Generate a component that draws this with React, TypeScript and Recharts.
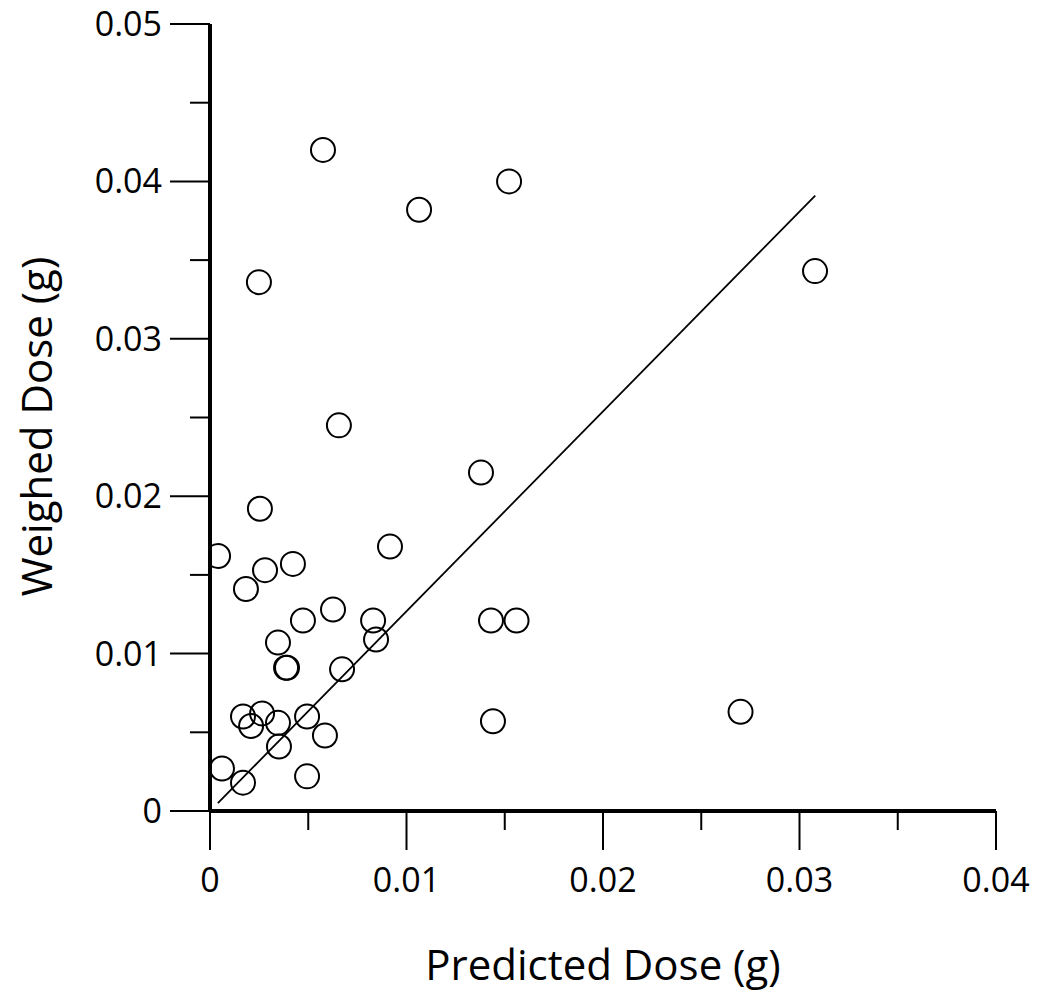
import React from 'react';
import { ScatterChart, Scatter, XAxis, YAxis, ReferenceLine, Label } from 'recharts';

const predicted = [
  0.00575, 0.01522, 0.01064, 0.00249, 0.03079, 0.00656, 0.01379, 0.00254,
  0.00916, 0.00041, 0.0028, 0.00422, 0.00183, 0.00626, 0.00473, 0.0083,
  0.0143, 0.0156, 0.00346, 0.00845, 0.00387, 0.00392, 0.00672, 0.00168,
  0.00265, 0.00209, 0.00346, 0.00494, 0.00585, 0.00351, 0.0144, 0.027,
  0.00061, 0.00168, 0.00494,
];
const weighed = [
  0.042, 0.04, 0.0382, 0.0336, 0.0343, 0.0245, 0.0215, 0.0192,
  0.0168, 0.0162, 0.0153, 0.0157, 0.0141, 0.0128, 0.0121, 0.0121,
  0.0121, 0.0121, 0.0107, 0.0109, 0.0091, 0.0091, 0.009, 0.006,
  0.0062, 0.0054, 0.0056, 0.006, 0.0048, 0.0041, 0.0057, 0.0063,
  0.0027, 0.0018, 0.0022,
];
const fitX = [0.0004, 0.0308];
const fitY = [0.0005, 0.0391];
const xTicks = [0, 0.005, 0.01, 0.015, 0.02, 0.025, 0.03, 0.035, 0.04];
const yTicks = [0, 0.005, 0.01, 0.015, 0.02, 0.025, 0.03, 0.035, 0.04, 0.045, 0.05];
const xTitle = 'Predicted Dose (g)';
const yTitle = 'Weighed Dose (g)';

const points = predicted.map((x, i) => ({ x, y: weighed[i] }));
const fitSegment = fitX.map((x, i) => ({ x, y: fitY[i] }));

const FONT = '"Open Sans", "Noto Sans", sans-serif';
const isMajor = (v: number) => Math.abs(v * 100 - Math.round(v * 100)) < 1e-6;
const fmt = (v: number) => (v === 0 ? '0' : v.toFixed(2));

const XTick = (props: any) => {
  const { x, y, payload } = props;
  const v = payload.value;
  const major = isMajor(v);
  return (
    <g>
      <line x1={x} x2={x} y1={y} y2={y + (major ? 39 : 19)} stroke="#000" strokeWidth={2} />
      {major && (
        <text x={x} y={y + 81} textAnchor="middle" fontSize={34} fontFamily={FONT} fill="#000">
          {fmt(v)}
        </text>
      )}
    </g>
  );
};

const YTick = (props: any) => {
  const { x, y, payload } = props;
  const v = payload.value;
  const major = isMajor(v);
  return (
    <g>
      <line x1={x - (major ? 40 : 20)} x2={x} y1={y} y2={y} stroke="#000" strokeWidth={2} />
      {major && (
        <text x={x - 48} y={y + 12} textAnchor="end" fontSize={34} fontFamily={FONT} fill="#000">
          {fmt(v)}
        </text>
      )}
    </g>
  );
};

const Ring = (props: any) => (
  <circle cx={props.cx} cy={props.cy} r={12} fill="none" stroke="#000" strokeWidth={2} />
);

export default function App() {
  return (
    <div style={{ position: 'absolute', left: 0, top: 0, width: 1042, height: 1000, background: '#fff' }}>
      <ScatterChart width={1042} height={1000} margin={{ top: 24, right: 46, bottom: 0, left: 0 }}>
        <XAxis
          type="number"
          dataKey="x"
          domain={[0, 0.04]}
          ticks={xTicks}
          interval={0}
          height={189}
          tickSize={0}
          tickMargin={0}
          tickLine={false}
          tick={<XTick />}
          axisLine={{ stroke: '#000', strokeWidth: 4 }}
          allowDataOverflow
        >
          <Label
            content={(p: any) => {
              const vb = p.viewBox;
              return (
                <text x={vb.x + vb.width / 2} y={vb.y + vb.height - 20} textAnchor="middle" fontSize={42} fontFamily={FONT} fill="#000">
                  {xTitle}
                </text>
              );
            }}
          />
        </XAxis>
        <YAxis
          type="number"
          dataKey="y"
          domain={[0, 0.05]}
          ticks={yTicks}
          interval={0}
          width={210}
          tickSize={0}
          tickMargin={0}
          tickLine={false}
          tick={<YTick />}
          axisLine={{ stroke: '#000', strokeWidth: 4 }}
          allowDataOverflow
        >
          <Label
            content={(p: any) => {
              const vb = p.viewBox;
              const cx = 52;
              const cy = vb.y + vb.height / 2 + 9;
              return (
                <text x={cx} y={cy} transform={`rotate(-90, ${cx}, ${cy})`} textAnchor="middle" fontSize={42} fontFamily={FONT} fill="#000">
                  {yTitle}
                </text>
              );
            }}
          />
        </YAxis>
        <ReferenceLine segment={fitSegment} stroke="#000" strokeWidth={1.8} ifOverflow="visible" />
        <Scatter data={points} shape={<Ring />} isAnimationActive={false} />
      </ScatterChart>
    </div>
  );
}
